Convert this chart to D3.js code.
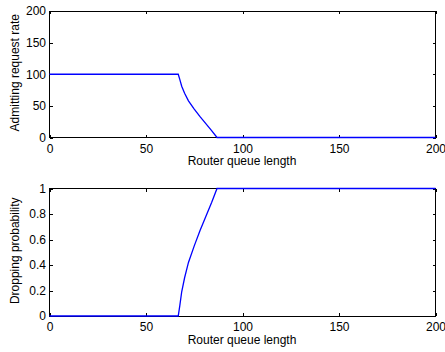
<!DOCTYPE html>
<meta charset="utf-8">
<style>
body { margin: 0; background: #fff; }
.axis text { font: 12px "Liberation Sans", Arial, sans-serif; fill: #000; }
.axis path, .axis line { fill: none; stroke: #000; shape-rendering: crispEdges; }
.label { font: 12px "Liberation Sans", Arial, sans-serif; fill: #000; }
.curve { fill: none; stroke: #0000ff; stroke-width: 1.3px; }
</style>
<body>
<div id="chart"></div>
<script src="https://cdn.jsdelivr.net/npm/d3@7"></script>
<script>
// queue length samples and values
var queueLen = [0, 66.7, 67.5, 68.5, 70, 72, 75, 78, 81, 84, 86.8, 200];
var admitRate = [100, 100, 92, 81, 70, 58, 45, 33, 22, 11, 0, 0];
var dropProb = [0, 0, 0.08, 0.19, 0.3, 0.42, 0.55, 0.67, 0.78, 0.89, 1, 1];

var xTicks = [0, 50, 100, 150, 200];
var rateTicks = [0, 50, 100, 150, 200];
var probTicks = [0, 0.2, 0.4, 0.6, 0.8, 1];

var width = 445, height = 352;
var left = 49.5, right = 435.5;

var svg = d3.select("#chart").append("svg")
    .attr("width", width)
    .attr("height", height);

var x = d3.scaleLinear().domain([0, 200]).range([left, right]);

function panel(top, bottom, yDomain, yTickVals, yFmt, values, xLabelY, yLabel, yLabelX) {
  var y = d3.scaleLinear().domain(yDomain).range([bottom, top]);
  var g = svg.append("g");

  // box
  g.append("rect")
    .attr("x", left).attr("y", top)
    .attr("width", right - left).attr("height", bottom - top)
    .attr("fill", "none").attr("stroke", "#000")
    .style("shape-rendering", "crispEdges");

  g.append("g").attr("class", "axis")
    .attr("transform", "translate(0," + bottom + ")")
    .call(d3.axisBottom(x).tickValues(xTicks).tickSizeInner(-3).tickSizeOuter(0).tickPadding(6.5))
    .call(function(s) { s.select(".domain").remove(); });
  g.append("g").attr("class", "axis")
    .attr("transform", "translate(0," + top + ")")
    .call(d3.axisTop(x).tickValues(xTicks).tickSizeInner(-3).tickSizeOuter(0).tickFormat(""))
    .call(function(s) { s.select(".domain").remove(); });
  g.append("g").attr("class", "axis")
    .attr("transform", "translate(" + left + ",0)")
    .call(d3.axisLeft(y).tickValues(yTickVals).tickSizeInner(-3).tickSizeOuter(0).tickPadding(3.5).tickFormat(yFmt))
    .call(function(s) { s.select(".domain").remove(); });
  g.append("g").attr("class", "axis")
    .attr("transform", "translate(" + right + ",0)")
    .call(d3.axisRight(y).tickValues(yTickVals).tickSizeInner(-3).tickSizeOuter(0).tickFormat(""))
    .call(function(s) { s.select(".domain").remove(); });

  var line = d3.line()
    .x(function(d, i) { return x(queueLen[i]); })
    .y(function(d) { return y(d); });

  g.append("path").datum(values).attr("class", "curve").attr("d", line);

  g.append("text").attr("class", "label")
    .attr("x", 242).attr("y", xLabelY)
    .attr("text-anchor", "middle")
    .text("Router queue length");

  g.append("text").attr("class", "label")
    .attr("transform", "translate(" + yLabelX + "," + ((top + bottom) / 2 - 1.5) + ") rotate(-90)")
    .attr("text-anchor", "middle")
    .text(yLabel);
}

panel(11, 137.5, [0, 200], rateTicks, d3.format("d"), admitRate, 165, "Admitting request rate", 19);
panel(188.5, 316, [0, 1], probTicks, function(d) { return d === 0 || d === 1 ? d : d3.format(".1f")(d); }, dropProb, 343.5, "Dropping probability", 19);
</script>
